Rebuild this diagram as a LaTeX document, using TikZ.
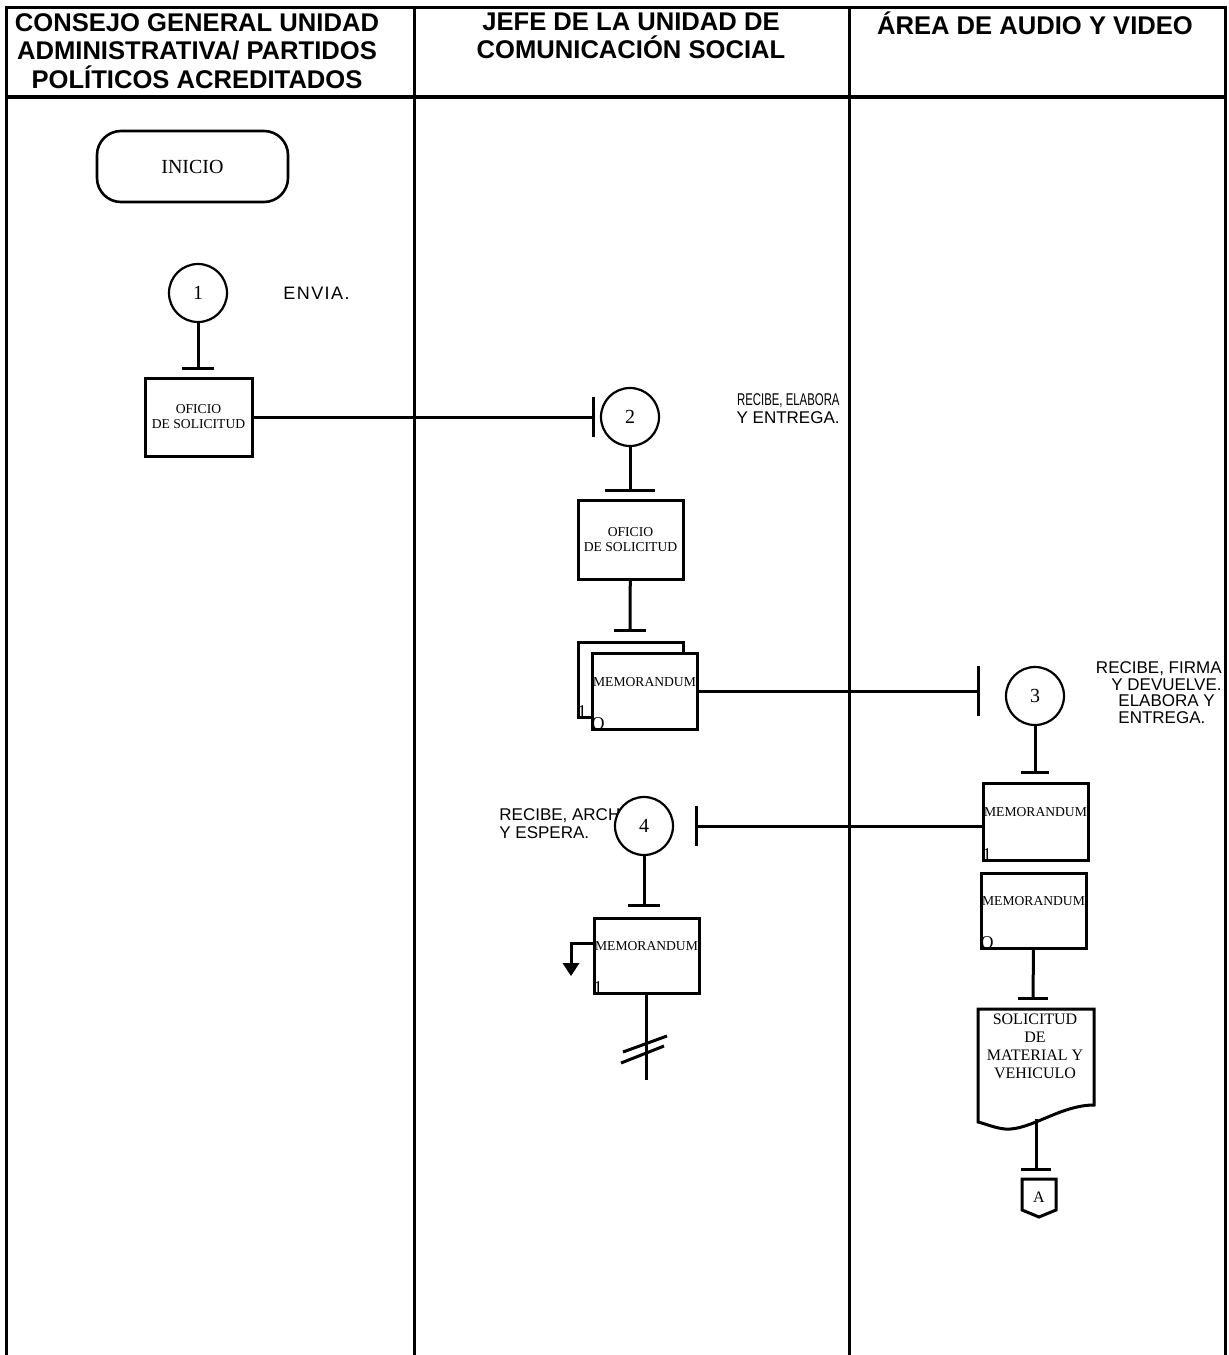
\documentclass[tikz,border=0pt]{standalone}
\usepackage{fontspec}
\setmainfont{Liberation Serif}
\setsansfont{Liberation Sans}
\usepackage{graphicx}

\newcommand{\tbarh}[2]{\draw[flujo] (#1) ++(-#2,0) -- ++(2*#2,0);}  % tope horizontal
\newcommand{\tbarv}[2]{\draw[flujo] (#1) ++(0,-#2) -- ++(0,2*#2);}  % tope vertical

\begin{document}
\begin{tikzpicture}[x=0.5pt,y=-0.5pt,
  carril/.style={line width=1.5pt},
  flujo/.style={line width=1.5pt},
  paso/.style={circle,draw,line width=1.1pt,minimum size=29pt,inner sep=0pt,fill=white,font=\fontsize{10}{12}\selectfont},
  hoja/.style={rectangle,draw,line width=1.5pt,inner sep=0pt,fill=white,align=center,
    minimum width=52.5pt,minimum height=38pt,font=\fontsize{6.8}{7.5}\selectfont},
  memo/.style={font=\fontsize{6.8}{7.5}\selectfont,inner sep=0pt},
  marca/.style={font=\fontsize{9}{9}\selectfont,inner sep=0.3pt,anchor=south west},
  nota/.style={font=\sffamily\fontsize{8.5}{8.5}\selectfont,inner sep=0pt},
  titulo/.style={font=\sffamily\bfseries\fontsize{12.8}{14.25}\selectfont,align=center,inner sep=0pt}]
  \useasboundingbox (0,0) rectangle (1229,1355);

  % carriles
  \draw[carril] (6,1355) -- (6,7) -- (1225,7) -- (1225,1355);
  \draw[carril] (414,7) -- (414,1355);
  \draw[carril] (849,7) -- (849,1355);
  \draw[line width=2.4pt] (6,97) -- (1225,97);
  \node[titulo] (h1) at (197,51) {CONSEJO GENERAL UNIDAD\\ADMINISTRATIVA/ PARTIDOS\\POLÍTICOS ACREDITADOS};
  \node[titulo] (h2) at (631,36) {JEFE DE LA UNIDAD DE\\COMUNICACIÓN SOCIAL};
  \node[titulo] (h3) at (1035,23) {ÁREA DE AUDIO Y VIDEO};

  % consejo general
  \node[draw,line width=1.3pt,minimum width=95.5pt,minimum height=35.5pt,rounded corners=12pt,
    font=\fontsize{10}{12}\selectfont] (inicio) at (192.5,166.5) {INICIO};
  \node[paso] (p1) at (198,293) {1};
  \node[nota,anchor=west,font=\sffamily\fontsize{9}{9}\addfontfeatures{LetterSpace=8}\selectfont] (n1) at (283,293) {ENVIA.};
  \coordinate (t1) at (198,368);
  \draw[flujo] (p1) -- (t1); \tbarh{t1}{16}
  \node[hoja,minimum width=53.5pt,minimum height=39pt] (of1) at (198.5,417) {OFICIO\\DE SOLICITUD};

  % jefe de la unidad
  \coordinate (t2) at (593,417);
  \node[paso] (p2) at (630,417) {2};
  \draw[flujo] (of1.east) -- (t2); \tbarv{t2}{20}
  \node[nota,anchor=east,align=right,font=\sffamily\fontsize{8.5}{9}\selectfont] (n2) at (840,409)
    {\scalebox{0.67}[1]{RECIBE, ELABORA}\\Y ENTREGA.};
  \coordinate (t3) at (630,490);
  \draw[flujo] (p2) -- (t3); \tbarh{t3}{25}
  \node[hoja,minimum height=39.5pt] (of2) at (630.5,539.5) {OFICIO\\DE SOLICITUD};
  \coordinate (t4) at (630,630);
  \draw[flujo] (of2) -- (t4); \tbarh{t4}{16}
  \node[hoja,minimum height=37.5pt] (m1b) at (630.5,679.5) {};
  \node[hoja] (m1) at (644.5,691) {};
  \node[memo] (m1t) at ([yshift=4.5pt]m1.center) {MEMORANDUM};
  \node[marca] (m1u) at (m1b.south west) {1};
  \node[marca] (m1o) at (m1.south west) {O};

  % area de audio y video
  \coordinate (t5) at (978,691);
  \draw[flujo] (m1.east) -- (t5); \tbarv{t5}{25}
  \node[paso] (p3) at (1035,696) {3};
  \node[nota,anchor=east,align=right] (n3a) at (1222,676.5) {RECIBE, FIRMA\\Y DEVUELVE.};
  \node[nota,anchor=west,align=left] (n3b) at (1118,709) {ELABORA Y\\ENTREGA.};
  \coordinate (t6) at (1035,772);
  \draw[flujo] (p3) -- (t6); \tbarh{t6}{14}
  \node[hoja,minimum height=38.5pt] (m2) at (1035.5,821.5) {};
  \node[memo] (m2t) at ([yshift=4.5pt]m2.center) {MEMORANDUM};
  \node[marca] (m2u) at (m2.south west) {1};

  \coordinate (t7) at (696,826);
  \draw[flujo] (m2.west |- t7) -- (t7); \tbarv{t7}{20}
  \node[nota,anchor=west,align=left,font=\sffamily\fontsize{8.5}{9}\selectfont] (n4) at (499,824)
    {RECIBE, ARCHIVA\\Y ESPERA.};
  \node[paso] (p4) at (644,826) {4};
  \coordinate (t8) at (644,905);
  \draw[flujo] (p4) -- (t8); \tbarh{t8}{16}
  \node[hoja,minimum height=37.5pt] (m3) at (646.5,955.5) {};
  \node[memo] (m3t) at ([yshift=4.5pt]m3.center) {MEMORANDUM};
  \node[marca] (m3u) at (m3.south west) {1};
  % archivo
  \coordinate (arch) at (571,963);
  \draw[flujo] ([yshift=6.25pt]m3.west) -| (arch);
  \fill (arch) ++(-8.5,0) -- ++(17,0) -- ++(-8.5,13) -- cycle;
  \coordinate (fin4) at (646,1080);
  \draw[flujo] (m3.south) -- (m3.south |- fin4);
  \draw[flujo] (623,1052) -- (667,1036);
  \draw[flujo] (621,1063) -- (664,1046);

  \node[hoja,minimum height=37.5pt] (m4) at (1033.5,910.5) {};
  \node[memo] (m4t) at ([yshift=4.5pt]m4.center) {MEMORANDUM};
  \node[marca] (m4o) at (m4.south west) {O};
  \coordinate (t9) at (1033,998);
  \draw[flujo] (m4.south) -- (t9); \tbarh{t9}{15}
  \draw[line width=1.5pt] (978,1009) -- (1094,1009) -- (1094,1105)
    .. controls (1060,1105) and (1030,1131) .. (1005,1129)
    .. controls (995,1128) and (986,1124) .. (978,1122) -- cycle;
  \node[font=\fontsize{8}{9}\selectfont,align=center,inner sep=0pt] (sol) at (1035,1046)
    {SOLICITUD\\DE\\MATERIAL Y\\VEHICULO};
  \coordinate (solb) at (1036,1119);
  \coordinate (t10) at (1036,1169);
  \draw[flujo] (solb) -- (t10); \tbarh{t10}{15}
  \draw[flujo] (1022,1179) -- (1056,1179) -- (1056,1210) -- (1039,1217) -- (1022,1210) -- cycle;
  \node[font=\fontsize{8}{9}\selectfont,inner sep=0pt] (conA) at (1039,1197) {A};
\end{tikzpicture}
\end{document}
